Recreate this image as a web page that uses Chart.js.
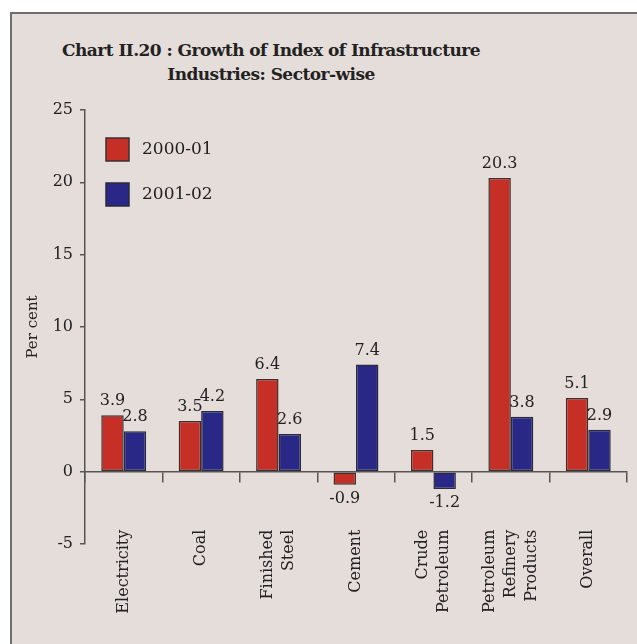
<!DOCTYPE html>
<html><head><meta charset="utf-8">
<script src="https://cdn.jsdelivr.net/npm/chart.js@4.4.1/dist/chart.umd.min.js"></script>
<style>
html,body{margin:0;padding:0;background:#fff;width:637px;height:644px;overflow:hidden}
#frame{position:absolute;left:10px;top:12px;width:700px;height:700px;border-left:2px solid #6e6e6e;border-top:2px solid #6e6e6e;background:#e5ddd9}
#title{position:absolute;left:0;top:38px;width:542px;text-align:center;font-family:'DejaVu Serif';font-weight:bold;font-size:17px;letter-spacing:-0.55px;line-height:24px;color:#222;white-space:nowrap}
#wrap{position:absolute;left:0;top:0;width:637px;height:644px}
</style></head><body>
<div id="frame"></div>
<div id="title">Chart II.20 : Growth of Index of Infrastructure<br>Industries: Sector-wise</div>
<div id="wrap"><canvas id="c" width="637" height="644"></canvas></div>
<script>
const categories = ['Electricity', 'Coal', ['Finished', 'Steel'], 'Cement', ['Crude', 'Petroleum'], ['Petroleum', 'Refinery', 'Products'], 'Overall'];
const seriesNames = ['2000-01', '2001-02'];
const values2000_01 = [3.9, 3.5, 6.4, -0.9, 1.5, 20.3, 5.1];
const values2001_02 = [2.8, 4.2, 2.6, 7.4, -1.2, 3.8, 2.9];
const yMin = -5, yMax = 25, yStep = 5;

const FONT = 'DejaVu Serif';
const TEXT = '#222';
const AXIS = '#555';

function lineCount(i) { const l = categories[i]; return Array.isArray(l) ? l.length : 1; }

const valueLabels = {
  id: 'valueLabels',
  afterDatasetsDraw(chart) {
    const ctx = chart.ctx;
    ctx.save();
    ctx.font = '16px "' + FONT + '"';
    ctx.fillStyle = TEXT;
    ctx.textAlign = 'center';
    ctx.textBaseline = 'middle';
    chart.data.datasets.forEach((ds, di) => {
      const meta = chart.getDatasetMeta(di);
      meta.data.forEach((bar, i) => {
        const v = ds.data[i];
        const y = v >= 0 ? bar.y - 14 : bar.y + 14;
        ctx.fillText(v.toFixed(1), bar.x, y);
      });
    });
    ctx.restore();
  }
};

const insideLegend = {
  id: 'insideLegend',
  afterDraw(chart) {
    const ctx = chart.ctx, a = chart.chartArea;
    ctx.save();
    chart.data.datasets.forEach((ds, i) => {
      const x = a.left + 21, y = a.top + 28 + i * 45;
      ctx.fillStyle = ds.backgroundColor;
      ctx.fillRect(x, y, 23, 23);
      ctx.strokeStyle = ds.borderColor;
      ctx.lineWidth = 1.5;
      ctx.strokeRect(x, y, 23, 23);
      ctx.fillStyle = TEXT;
      ctx.font = '17px "' + FONT + '"';
      ctx.textAlign = 'left';
      ctx.textBaseline = 'middle';
      ctx.fillText(ds.label, x + 36, y + 12);
    });
    ctx.restore();
  }
};

new Chart(document.getElementById('c'), {
  type: 'bar',
  data: {
    labels: categories,
    datasets: [
      { label: seriesNames[0], data: values2000_01, backgroundColor: '#c62f25', borderColor: '#3a3030', borderWidth: 1.5, borderSkipped: false, barPercentage: 1, categoryPercentage: 0.58 },
      { label: seriesNames[1], data: values2001_02, backgroundColor: '#2a2886', borderColor: '#2a2a3a', borderWidth: 1.5, borderSkipped: false, barPercentage: 1, categoryPercentage: 0.58 }
    ]
  },
  options: {
    responsive: false,
    animation: false,
    devicePixelRatio: 1,
    layout: { padding: { left: 0, right: 8, top: 110, bottom: 100 } },
    plugins: { legend: { display: false }, tooltip: { enabled: false }, title: { display: false } },
    scales: {
      x: {
        position: { y: 0 },
        offset: true,
        grid: { display: true, drawOnChartArea: false, drawTicks: true, tickLength: 10, color: AXIS, lineWidth: 1.5, offset: true },
        border: { display: true, color: AXIS, width: 1.5 },
        ticks: {
          autoSkip: false,
          minRotation: 90,
          maxRotation: 90,
          mirror: true,
          padding: 48,
          color: TEXT,
          showLabelBackdrop: (ctx) => lineCount(ctx.index) !== 3,
          backdropColor: 'rgba(0,0,0,0)',
          backdropPadding: 0,
          font: (ctx) => ({ family: FONT, size: 16, lineHeight: lineCount(ctx.index) === 1 ? 0.01 : 1.3 })
        }
      },
      y: {
        position: 'left',
        min: yMin,
        max: yMax,
        afterFit(scale) { scale.width = 85; },
        grid: { display: true, drawOnChartArea: false, drawTicks: true, tickLength: 5, color: AXIS, lineWidth: 1.5 },
        border: { display: true, color: AXIS, width: 1.5 },
        ticks: { stepSize: yStep, padding: 7, color: TEXT, font: { family: FONT, size: 16 } },
        title: { display: true, text: 'Per cent', color: TEXT, font: { family: FONT, size: 15 }, padding: { top: 24, bottom: 0 } }
      }
    }
  },
  plugins: [valueLabels, insideLegend]
});
</script>
</body></html>
